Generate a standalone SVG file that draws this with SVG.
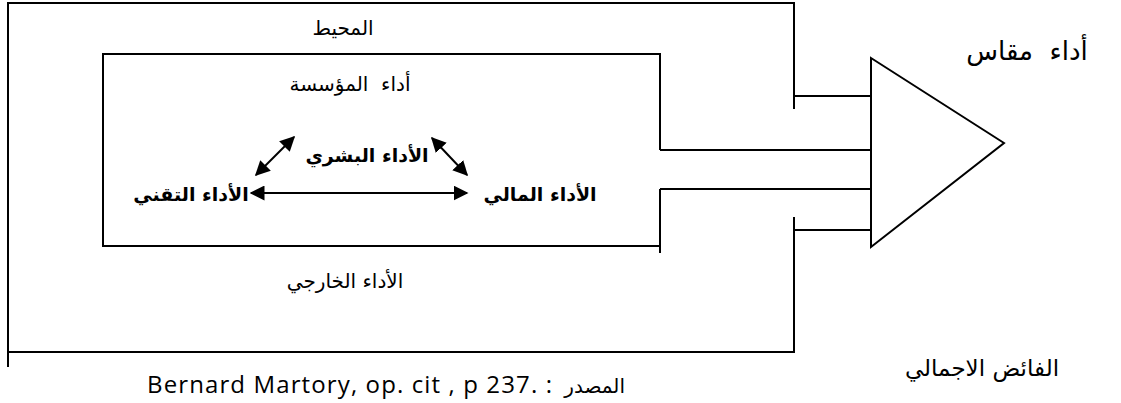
<svg xmlns="http://www.w3.org/2000/svg" width="1121" height="403" viewBox="0 0 1121 403">
  <style>
    .ln { fill: none; stroke: #000; stroke-width: 2; }
    .ar { font-family: "DejaVu Sans", "Noto Sans", sans-serif; fill: #000; text-anchor: middle; direction: rtl; }
    .arb { font-family: "DejaVu Sans", "Noto Sans", sans-serif; font-weight: bold; fill: #000; text-anchor: middle; direction: rtl; }
    .src { font-family: "Open Sans", "Liberation Sans", sans-serif; fill: #000; font-size: 24px; }
    .arr { stroke: #000; stroke-width: 2; marker-start: url(#head); marker-end: url(#head); }
  </style>
  <defs>
    <marker id="head" viewBox="0 0 10 10" refX="9" refY="5" markerWidth="7.5" markerHeight="7.5" orient="auto-start-reverse" markerUnits="strokeWidth">
      <path d="M0,0 L10,5 L0,10 Z" fill="#000"/>
    </marker>
  </defs>

  <!-- environment frame -->
  <g id="environment">
    <path class="ln" d="M8,367 V3 H794 V109"/>
    <path class="ln" d="M794,217 V352 H8"/>
    <text class="ar" x="343" y="35" font-size="20">المحيط</text>
    <text class="ar" x="345" y="288" font-size="20">الأداء الخارجي</text>
  </g>

  <!-- organisation box -->
  <g id="organisation">
    <path class="ln" d="M660,150 V54 H103 V246 H660"/>
    <path class="ln" d="M660,253 V189"/>
    <text class="ar" x="350" y="91" font-size="20" xml:space="preserve">أداء  المؤسسة</text>
  </g>

  <g id="human">
    <text class="arb" x="367" y="162" font-size="19">الأداء البشري</text>
  </g>
  <g id="technical">
    <text class="arb" x="191" y="201" font-size="19">الأداء التقني</text>
  </g>
  <g id="financial">
    <text class="arb" x="540" y="201" font-size="19">الأداء المالي</text>
  </g>

  <!-- measured performance triangle -->
  <g id="measured">
    <path class="ln" d="M871,58 L1004,143 L871,247 Z"/>
    <text class="ar" x="1027" y="60" font-size="26" xml:space="preserve">أداء  مقاس</text>
    <text class="ar" x="982" y="376" font-size="23">الفائض الاجمالي</text>
  </g>

  <!-- connectors -->
  <g id="connectors">
    <path class="ln" d="M794,96 H871"/>
    <path class="ln" d="M660,150 H871"/>
    <path class="ln" d="M660,189 H871"/>
    <path class="ln" d="M794,230 H871"/>
    <line class="arr" x1="251" y1="193" x2="467" y2="193"/>
    <line class="arr" x1="256" y1="175" x2="294" y2="137"/>
    <line class="arr" x1="432" y1="138" x2="467" y2="175"/>
  </g>

  <!-- source line -->
  <g id="source">
    <text class="src" x="147" y="393" textLength="405">Bernard Martory, op. cit , p 237. :</text>
    <text class="ar" x="625" y="393" font-size="20" style="text-anchor:start">المصدر</text>
  </g>
</svg>
